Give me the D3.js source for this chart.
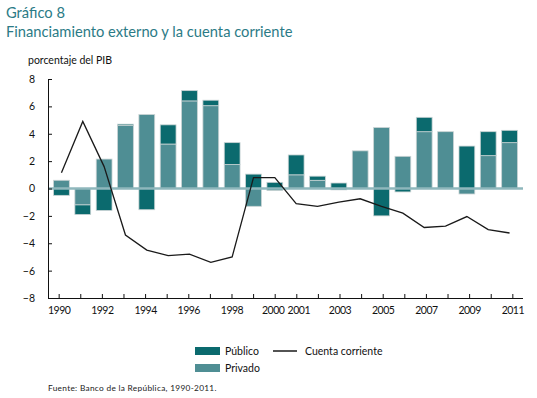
<!DOCTYPE html>
<html>
<head>
<meta charset="utf-8">
<script src="https://cdn.jsdelivr.net/npm/d3@7"></script>
<style>
  body { margin: 0; background: #fff; font-family: "Lato", "Open Sans", sans-serif; }
</style>
</head>
<body>
<div id="chart"></div>
<script>
var years = [1990,1991,1992,1993,1994,1995,1996,1997,1998,1999,2000,2001,2002,2003,2004,2005,2006,2007,2008,2009,2010,2011];
var privado = [0.6,-1.2,2.15,4.6,5.4,3.25,6.4,6.05,1.75,-1.3,-0.15,1.0,0.6,-0.1,2.75,4.45,2.35,4.15,4.15,-0.4,2.4,3.35];
var publico = [-0.5,-0.7,-1.6,0.1,-1.55,1.4,0.75,0.4,1.6,1.05,0.45,1.45,0.3,0.4,0,-2.0,-0.25,1.05,0,3.1,1.75,0.9];
var cuenta = [1.15,4.9,1.6,-3.4,-4.5,-4.9,-4.8,-5.4,-5.0,0.8,0.8,-1.1,-1.3,-1.0,-0.75,-1.3,-1.8,-2.85,-2.75,-2.05,-3.0,-3.25];
var yTicks = [-8,-6,-4,-2,0,2,4,6,8];
var xLabels = [1990,1992,1994,1996,1998,2000,2001,2003,2005,2007,2009,2011];

var W = 537, H = 398;
var colPub = "#0b6a6e", colPriv = "#4f8e94";

var svg = d3.select("#chart").append("svg")
    .attr("width", W)
    .attr("height", H);

// titles
svg.append("text").attr("x", 6).attr("y", 18)
  .style("font-size", "14.7px").style("fill", "#2b7b86").text("Gráfico 8");
svg.append("text").attr("x", 6).attr("y", 37)
  .style("font-size", "14.7px").style("fill", "#2b7b86").text("Financiamiento externo y la cuenta corriente");
svg.append("text").attr("x", 28).attr("y", 64)
  .style("font-size", "10.5px").style("fill", "#111").text("porcentaje del PIB");

var x = d3.scaleBand().domain(years).range([48, 523]).padding(0.26);
var y = d3.scaleLinear().domain([-8, 8]).range([298, 79]);

// stack: privado from 0, publico stacked on privado when same sign
var bars = [];
years.forEach(function (yr, i) {
  var p = privado[i], q = publico[i];
  bars.push({ yr: yr, y0: 0, y1: p, c: colPriv });
  var base = (p * q > 0) ? p : 0;
  bars.push({ yr: yr, y0: base, y1: base + q, c: colPub });
});

svg.append("g").selectAll("rect")
  .data(bars.filter(function (d) { return d.y1 !== d.y0; }))
  .enter().append("rect")
    .attr("x", function (d) { return x(d.yr); })
    .attr("width", x.bandwidth())
    .attr("y", function (d) { return y(Math.max(d.y0, d.y1)); })
    .attr("height", function (d) { return Math.abs(y(d.y0) - y(d.y1)); })
    .style("fill", function (d) { return d.c; })
    .style("stroke", "#c9d3d4")
    .style("stroke-width", 0.8);

// zero line
svg.append("line")
  .attr("x1", 48).attr("x2", 523)
  .attr("y1", y(0)).attr("y2", y(0))
  .style("stroke", "#8fb7bc").style("stroke-width", 2.5);

// cuenta corriente
var line = d3.line()
  .x(function (d, i) { return x(years[i]) + x.bandwidth() / 2; })
  .y(function (d) { return y(d); });
svg.append("path").datum(cuenta)
  .attr("d", line)
  .style("fill", "none").style("stroke", "#1a1a1a").style("stroke-width", 1.3);

// axes
var yAxis = d3.axisLeft(y).tickValues(yTicks).tickSize(-4).tickPadding(13)
  .tickFormat(d3.format("d"));
var gy = svg.append("g").attr("transform", "translate(48,0)").call(yAxis);
gy.select(".domain").attr("d", "M4,79.5H0.5V298.5");

var x2 = d3.scalePoint().domain(years).range([48 + x.step() / 2, 523 - x.step() / 2]);
var xAxis = d3.axisBottom(x2).tickSize(-4).tickPadding(9)
  .tickFormat(function (d) { return xLabels.indexOf(d) >= 0 ? d : ""; });
var gx = svg.append("g").attr("transform", "translate(0,298)").call(xAxis);
gx.select(".domain").attr("d", "M48,0.5H523");

svg.selectAll(".tick text")
  .style("font-family", "Lato, 'Open Sans', sans-serif")
  .style("font-size", "10.5px").style("fill", "#111");
gx.selectAll(".tick text").style("letter-spacing", "-0.5px")
  .attr("dx", function (d) { return d === 2000 ? -2 : d === 2001 ? 2 : 0; });
svg.selectAll(".domain, .tick line").style("stroke", "#111");

// legend
var lg = svg.append("g");
lg.append("rect").attr("x", 195).attr("y", 347).attr("width", 25).attr("height", 8).style("fill", colPub);
lg.append("text").attr("x", 225).attr("y", 355).style("font-size", "10.5px").style("fill", "#111").text("Público");
lg.append("rect").attr("x", 195).attr("y", 364).attr("width", 25).attr("height", 8).style("fill", colPriv);
lg.append("text").attr("x", 225).attr("y", 372).style("font-size", "10.5px").style("fill", "#111").text("Privado");
lg.append("line").attr("x1", 273).attr("x2", 297).attr("y1", 351).attr("y2", 351)
  .style("stroke", "#1a1a1a").style("stroke-width", 1.5);
lg.append("text").attr("x", 305).attr("y", 355).style("font-size", "10.5px").style("fill", "#111").text("Cuenta corriente");

svg.append("text").attr("x", 48).attr("y", 391)
  .style("font-size", "8.3px").style("letter-spacing", "0.3px").style("fill", "#222")
  .text("Fuente: Banco de la República, 1990-2011.");
</script>
</body>
</html>
